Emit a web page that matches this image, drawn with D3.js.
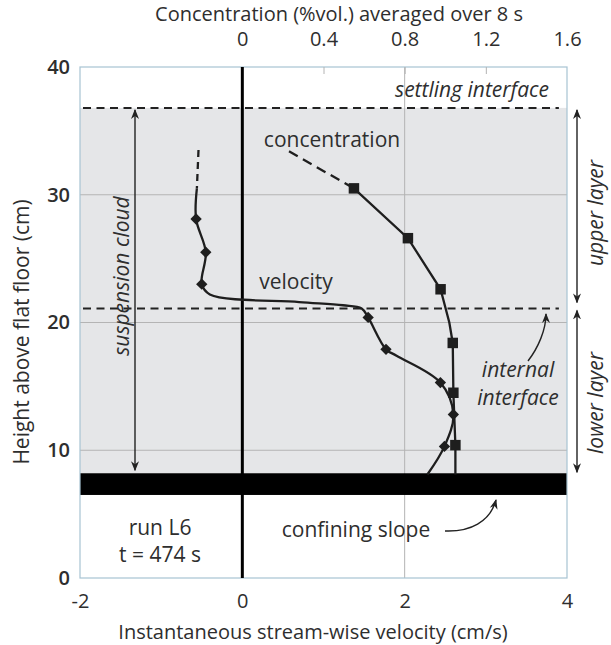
<!DOCTYPE html>
<html><head><meta charset="utf-8">
<script src="https://cdn.jsdelivr.net/npm/d3@7"></script>
<style>body{margin:0;background:#fff}svg{display:block}text{font-family:"Open Sans",sans-serif;fill:#2e2e2e}</style>
</head><body><div id="c"></div>
<script>
// ---- data ----
const velTicks = [-2, 0, 2, 4];
const concTicks = [0, 0.4, 0.8, 1.2, 1.6];
const heightTicks = [0, 10, 20, 30, 40];
// velocity profile [velocity cm/s, height cm]
const velDashed = [[-0.54, 33.5], [-0.56, 30.5]];
const velLine = [[-0.56, 30.5], [-0.57, 28.1], [-0.45, 25.5], [-0.50, 23.0], [-0.40, 22.2], [0.70, 21.6], [1.24, 21.35], [1.47, 21.1], [1.55, 20.4], [1.77, 17.9], [1.90, 17.4], [2.44, 15.3], [2.60, 12.8], [2.49, 10.3], [2.28, 8.1]];
const velMarkers = [[-0.57, 28.1], [-0.45, 25.5], [-0.50, 23.0], [1.55, 20.4], [1.77, 17.9], [2.44, 15.3], [2.60, 12.8], [2.49, 10.3]];
// concentration profile [%vol, height cm]
const concDashed = [[0.23, 33.4], [0.55, 30.5]];
const concLine = [[0.55, 30.5], [0.816, 26.6], [0.977, 22.6], [1.02, 20.0], [1.037, 18.4], [1.04, 14.5], [1.05, 10.4], [1.05, 8.1]];
const concMarkers = [[0.55, 30.5], [0.816, 26.6], [0.977, 22.6], [1.037, 18.4], [1.04, 14.5], [1.05, 10.4]];
const settlingInterface = 36.8, internalInterface = 21.1;
const slopeBand = [6.5, 8.2];

// ---- layout ----
const W = 611, H = 645;
const m = {l: 80, r: 44, t: 67, b: 67};
const x = d3.scaleLinear().domain([-2, 4]).range([m.l, W - m.r]);
const xc = d3.scaleLinear().domain([0, 1.6]).range([x(0), x(4)]);
const y = d3.scaleLinear().domain([0, 40]).range([H - m.b, m.t]);

const svg = d3.select("#c").append("svg").attr("width", W).attr("height", H);
svg.append("rect").attr("width", W).attr("height", H).attr("fill", "#fff");

const defs = svg.append("defs");
defs.append("marker").attr("id", "ah").attr("viewBox", "0 0 10 10").attr("refX", 9).attr("refY", 5)
  .attr("markerWidth", 10).attr("markerHeight", 10).attr("orient", "auto-start-reverse").attr("markerUnits", "userSpaceOnUse")
  .append("path").attr("d", "M0,1 L10,5 L0,9 L3,5 Z").attr("fill", "#222");

// grey suspension region
svg.append("rect").attr("x", x(-2)).attr("width", x(4) - x(-2))
  .attr("y", y(settlingInterface)).attr("height", y(slopeBand[1]) - y(settlingInterface)).attr("fill", "#e5e6e8");

// grid
const g = svg.append("g").attr("stroke", "#b4b4b4").attr("stroke-width", 1);
[10, 20, 30].forEach(h => g.append("line").attr("x1", x(-2)).attr("x2", x(4)).attr("y1", y(h)).attr("y2", y(h)));
g.append("line").attr("x1", x(2)).attr("x2", x(2)).attr("y1", y(40)).attr("y2", y(0));

// slope band
svg.append("rect").attr("x", x(-2)).attr("width", x(4) - x(-2))
  .attr("y", y(slopeBand[1])).attr("height", y(slopeBand[0]) - y(slopeBand[1])).attr("fill", "#000");

// border
svg.append("rect").attr("x", x(-2)).attr("y", y(40)).attr("width", x(4) - x(-2)).attr("height", y(0) - y(40))
  .attr("fill", "none").attr("stroke", "#a7c3d3").attr("stroke-width", 1.2);

// interfaces
[settlingInterface, internalInterface].forEach(h => svg.append("line")
  .attr("x1", x(-2) + 3).attr("x2", x(3.9)).attr("y1", y(h)).attr("y2", y(h))
  .attr("stroke", "#222").attr("stroke-width", 2).attr("stroke-dasharray", "8,5.5"));

// zero line
svg.append("line").attr("x1", x(0)).attr("x2", x(0)).attr("y1", y(40)).attr("y2", y(0))
  .attr("stroke", "#000").attr("stroke-width", 3);

// axes
const fs = "20px";
const ax = svg.append("g").attr("transform", `translate(0,${y(0)})`)
  .call(d3.axisBottom(x).tickValues(velTicks).tickSize(0).tickPadding(16).tickFormat(d => String(d)));
const axT = svg.append("g").attr("transform", `translate(0,${y(40)})`)
  .call(d3.axisTop(xc).tickValues(concTicks).tickSizeInner(-7).tickSizeOuter(0).tickPadding(21).tickFormat(d => d === 0 ? "0" : d3.format(".1f")(d)));
const axL = svg.append("g").attr("transform", `translate(${x(-2)},0)`)
  .call(d3.axisLeft(y).tickValues(heightTicks).tickSize(0).tickPadding(10));
[ax, axT, axL].forEach(a => {
  a.select(".domain").remove();
  a.selectAll("text").attr("font-size", fs).attr("fill", "#2e2e2e").style("font-family", '"Open Sans",sans-serif');
  a.selectAll("line").attr("stroke", "#b4b4b4");
});
axL.selectAll("text").attr("font-weight", "600").attr("fill", "#3a2a22");
axT.selectAll(".tick").filter(d => d === 0 || d === 1.6).select("line").remove();

// titles
svg.append("text").attr("x", 339).attr("y", 21).attr("text-anchor", "middle").attr("font-size", "20px")
  .text("Concentration (%vol.) averaged over 8 s");
svg.append("text").attr("x", 313).attr("y", 639).attr("text-anchor", "middle").attr("font-size", "20px")
  .text("Instantaneous stream-wise velocity (cm/s)");
svg.append("text").attr("transform", `translate(29,${332}) rotate(-90)`).attr("text-anchor", "middle")
  .attr("font-size", "21px").attr("fill", "#3a2a22").text("Height above flat floor (cm)");

// profiles
const lineV = d3.line().x(d => x(d[0])).y(d => y(d[1])).curve(d3.curveCatmullRom.alpha(0.5));
const lineC = d3.line().x(d => xc(d[0])).y(d => y(d[1]));
const prof = svg.append("g").attr("fill", "none").attr("stroke", "#1e1e1e").attr("stroke-width", 2.3);
prof.append("path").attr("d", lineV(velDashed)).attr("stroke-dasharray", "7,5");
prof.append("path").attr("d", lineV(velLine));
prof.append("path").attr("d", lineC(concDashed)).attr("stroke-dasharray", "10,6");
prof.append("path").attr("d", lineC(concLine));

svg.append("g").selectAll("path").data(velMarkers).join("path")
  .attr("d", d3.symbol(d3.symbolSquare, 64)())
  .attr("transform", d => `translate(${x(d[0])},${y(d[1])}) rotate(45)`).attr("fill", "#1e1e1e");
svg.append("g").selectAll("path").data(concMarkers).join("path")
  .attr("d", d3.symbol(d3.symbolSquare, 110)())
  .attr("transform", d => `translate(${xc(d[0])},${y(d[1])})`).attr("fill", "#1e1e1e");

// annotations
const ann = (tx, ty, s, it, anchor = "middle", rot = 0) => svg.append("text")
  .attr("transform", `translate(${tx},${ty}) rotate(${rot})`).attr("text-anchor", anchor)
  .attr("font-size", "21px").attr("font-style", it ? "italic" : "normal").text(s);
ann(549, 97, "settling interface", true, "end");
ann(332, 147, "concentration", false);
ann(296, 289, "velocity", false);
ann(518, 377, "internal", true);
ann(518, 405, "interface", true);
ann(129, 276, "suspension cloud", true, "middle", -90);
ann(603, 213, "upper layer", true, "middle", -90);
ann(603, 403, "lower layer", true, "middle", -90);
ann(160, 535, "run L6", false);
ann(160, 562, "t = 474 s", false);
ann(356, 537, "confining slope", false);

// arrows
const arr = svg.append("g").attr("fill", "none").attr("stroke", "#222").attr("stroke-width", 1.4);
arr.append("line").attr("x1", 135).attr("x2", 135).attr("y1", y(settlingInterface) + 2).attr("y2", y(slopeBand[1]) - 3)
  .attr("marker-start", "url(#ah)").attr("marker-end", "url(#ah)");
arr.append("line").attr("x1", 577).attr("x2", 577).attr("y1", y(settlingInterface) + 2).attr("y2", y(internalInterface) - 6)
  .attr("marker-start", "url(#ah)").attr("marker-end", "url(#ah)");
arr.append("line").attr("x1", 577).attr("x2", 577).attr("y1", y(internalInterface) + 2).attr("y2", y(slopeBand[1]) - 1)
  .attr("marker-start", "url(#ah)").attr("marker-end", "url(#ah)");
arr.append("path").attr("d", "M528,361 C538,348 546,330 546,314").attr("marker-end", "url(#ah)");
arr.append("path").attr("d", "M445,531 C470,532 490,522 496,500").attr("marker-end", "url(#ah)");
</script></body></html>
